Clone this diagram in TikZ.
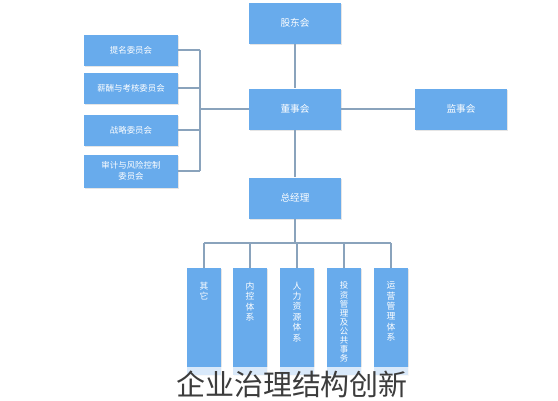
\documentclass[tikz,border=0pt]{standalone}
\usepackage{fontspec}
\setmainfont{Noto Sans CJK SC}
\usetikzlibrary{shadows}

\definecolor{boxblue}{RGB}{104,171,236}
\definecolor{linegray}{RGB}{138,163,188}
\definecolor{captiongray}{RGB}{60,60,60}

\newcommand{\vtxt}[1]{\parbox[c][1.95cm][t]{8pt}{\centering\vspace{5pt}#1}}

\begin{document}
\begin{tikzpicture}[x=0.02cm,y=-0.02cm,
	box/.style={fill=boxblue, draw=none, text=white, inner sep=0pt,
		drop shadow={shadow xshift=0.4pt, shadow yshift=-0.6pt, opacity=0.2}},
	mainbox/.style={box, minimum width=1.84cm, minimum height=0.82cm, font=\fontsize{5.5}{6.5}\selectfont},
	sidebox/.style={box, minimum width=1.88cm, minimum height=0.62cm, align=center, font=\fontsize{4.8}{6}\selectfont},
	deptbox/.style={box, minimum width=0.68cm, minimum height=2.14cm, anchor=north, font=\fontsize{5}{5.9}\selectfont},
	link/.style={draw=linegray, line width=0.6pt}]
		\fill[white] (0,0) rectangle (558,400);
		\useasboundingbox (0,0) rectangle (558,400);
		
		% top chain
		\node[mainbox] at (295,23) (gudong) {股东会};
		\node[mainbox] at (295,109) (dongshi) {董事会};
		\node[mainbox] at (461,109) (jianshi) {监事会};
		\node[mainbox] at (295,198) (zongjingli) {总经理};
		
		% committees
		\node[sidebox] at (131,50) (timing) {提名委员会};
		\node[sidebox] at (131,88) (xinchou) {薪酬与考核委员会};
		\node[sidebox] at (131,130) (zhanlve) {战略委员会};
		\node[sidebox, minimum height=0.66cm] at (131,171) (shenji) {审计与风险控制\\委员会};
		
		% departments
		\node[deptbox] at (204,268) (qita) {\vtxt{其\\它}};
		\node[deptbox] at (250,268) (neikong) {\vtxt{内\\控\\体\\系}};
		\node[deptbox] at (297,268) (renli) {\vtxt{人\\力\\资\\源\\体\\系}};
		\node[deptbox, font=\fontsize{4.8}{5.15}\selectfont] at (344,268) (touzi) {\vtxt{投\\资\\管\\理\\及\\公\\共\\事\\务}};
		\node[deptbox] at (391,268) (yunying) {\vtxt{运\\营\\管\\理\\体\\系}};
		
		\coordinate (bracket) at (200,109);
		\coordinate (btop) at (200,50);
		\coordinate (bbot) at (200,171);
		\coordinate (bus) at (295,243);
		
		\draw[link] (gudong) -- (dongshi);
		\draw[link] (dongshi) -- (jianshi);
		\draw[link] (dongshi) -- (zongjingli);
		\draw[link] (btop) -- (bbot);
		\draw[link] (bracket) -- (dongshi);
		\draw[link] (timing) -- (btop);
		\draw[link] (xinchou.east) -- (xinchou.east -| bracket);
		\draw[link] (zhanlve.east) -- (zhanlve.east -| bracket);
		\draw[link] (shenji) -- (bbot);
		
		\draw[link] (zongjingli) -- (bus);
		\draw[link] (qita.north |- bus) -- (yunying.north |- bus);
		\foreach \d in {qita,neikong,renli,touzi,yunying}
			\draw[link] (\d.north |- bus) -- (\d.north);
		
		% caption
		\fill[white, opacity=0.75] (168,367) rectangle (418,400);
		\node[text=captiongray, font=\fontsize{16.5}{18}\selectfont] at (292,384) (caption) {企业治理结构创新};
\end{tikzpicture}
\end{document}
